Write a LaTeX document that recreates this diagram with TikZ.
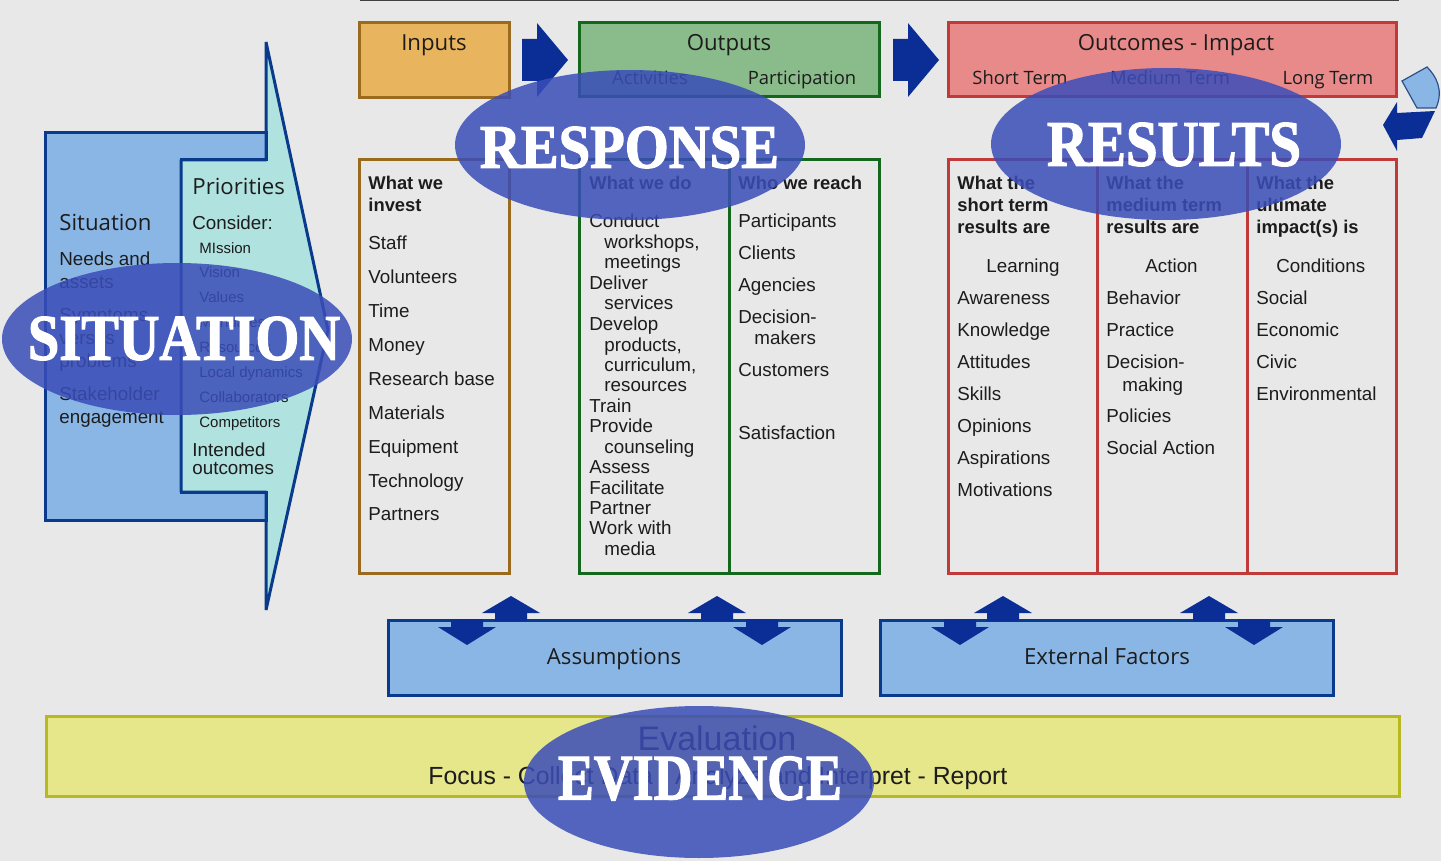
\documentclass[tikz,border=0pt]{standalone}
\usepackage{fontspec}
\usepackage{graphicx}
\setmainfont{Liberation Sans}
\newfontfamily\titlefont{Open Sans}
\newfontfamily\stencilfont[UprightFont={* Bold},FakeBold=2]{Liberation Serif}
\definecolor{pagebg}{HTML}{E8E8E8}
\definecolor{navy}{HTML}{0A2E96}
\definecolor{skyfill}{HTML}{8AB6E6}
\definecolor{skyline}{HTML}{0A3A8C}
\definecolor{tealfill}{HTML}{B0E2E0}
\definecolor{orangefill}{HTML}{E8B45E}
\definecolor{orangeline}{HTML}{9A6A1E}
\definecolor{greenfill}{HTML}{8ABB8A}
\definecolor{greenline}{HTML}{14681E}
\definecolor{redfill}{HTML}{E98A8A}
\definecolor{redline}{HTML}{C03A3A}
\definecolor{yellowfill}{HTML}{E6E68A}
\definecolor{yellowline}{HTML}{B8B820}
\definecolor{blobfill}{HTML}{3A4DB8}
\definecolor{inktext}{HTML}{1C1C1C}
\tikzset{
  x=0.5pt,y=-0.5pt,
  frame/.style={line width=1.5pt,line join=miter},
  body/.style={anchor=base west,inner sep=0pt,yshift=-0.4pt,text=inktext,font=\fontsize{9.4}{11}\selectfont},
  bodyb/.style={body,font=\fontsize{9.2}{11}\selectfont\bfseries},
  small/.style={body,font=\fontsize{7.5}{9}\selectfont},
  sit/.style={body,font=\fontsize{9.4}{12}\selectfont},
  heading/.style={anchor=base,inner sep=0pt,yshift=-0.4pt,text=inktext,font=\titlefont\fontsize{11.1}{13}\selectfont},
  subheading/.style={anchor=base,inner sep=0pt,yshift=-0.4pt,text=inktext,font=\titlefont\fontsize{9.2}{12}\selectfont},
  blobword/.style={inner sep=0pt,anchor=center,text=white,font=\stencilfont},
  solidarrow/.style={fill=navy,draw=none},
}
\begin{document}
\begin{tikzpicture}
\useasboundingbox (0,0) rectangle (1441,861);
\fill[pagebg] (0,0) rectangle (1441,861);
\draw[line width=1pt,black!75] (360,0) -- (1399,0);

% situation / priorities shape
\fill[tealfill] (266,45) -- (328,330) -- (266,607) -- cycle;
\filldraw[skyfill,draw=skyline,frame] (45,133) -- (266,133) -- (266,160) -- (181,160) -- (181,492) -- (266,492) -- (266,520) -- (45,520) -- cycle;
\fill[tealfill] (181,160) rectangle (266,492);
\draw[skyline,frame,line join=bevel] (181,492) -- (181,160) -- (266,160) -- (266,42) -- (328,330) -- (266,610) -- (266,492) -- cycle;
\draw[skyline,frame] (45,133) -- (266,133);
\draw[skyline,frame] (45,520) -- (266,520);

% header boxes
\filldraw[fill=orangefill,draw=orangeline,frame] (359,23) rectangle (509,98);
\filldraw[fill=greenfill,draw=greenline,frame] (579,23) rectangle (879,97);
\filldraw[fill=redfill,draw=redline,frame] (948,23) rectangle (1396,97);

% block arrows between headers
\fill[solidarrow] (522,39) -- (537,39) -- (537,23) -- (568,60) -- (537,97) -- (537,81) -- (522,81) -- cycle;
\fill[solidarrow] (893,39) -- (908,39) -- (908,23) -- (939,60) -- (908,97) -- (908,81) -- (893,81) -- cycle;

% feedback loop mark
\filldraw[fill=skyfill,draw=skyline!70!gray,line width=0.6pt] (1402,81) -- (1427,67) .. controls (1436,76) and (1444,90) .. (1436,108) -- (1417,108) -- cycle;
\fill[solidarrow] (1383,125) -- (1397,102) -- (1397,113) -- (1435,111) -- (1422,138) -- (1397,140) -- (1397,151) -- cycle;

% lower columns
\draw[orangeline,frame] (359,160) rectangle (509,573);
\draw[greenline,frame] (579,160) rectangle (879,573);
\draw[greenline,frame] (729,160) -- (729,573);
\draw[redline,frame] (948,160) rectangle (1396,573);
\draw[redline,frame] (1097,160) -- (1097,573);
\draw[redline,frame] (1247,160) -- (1247,573);

% assumptions / external factors
\filldraw[fill=skyfill,draw=skyline,frame] (388,620) rectangle (841,695);
\filldraw[fill=skyfill,draw=skyline,frame] (880,620) rectangle (1333,695);
\foreach \cx in {511,717,1003,1209}{
  \fill[solidarrow] (\cx,596) -- ({\cx+29},613) -- ({\cx+16},613) -- ({\cx+16},621) -- ({\cx-16},621) -- ({\cx-16},613) -- ({\cx-29},613) -- cycle;
}
\foreach \cx in {467,762,960,1254}{
  \fill[solidarrow] (\cx,645) -- ({\cx+29},627) -- ({\cx+16},627) -- ({\cx+16},619) -- ({\cx-16},619) -- ({\cx-16},627) -- ({\cx-29},627) -- cycle;
}

% evaluation bar
\filldraw[fill=yellowfill,draw=yellowline,frame] (46,716) rectangle (1399,796);
\node[anchor=base,inner sep=0pt,text=inktext,font=\fontsize{17}{20}\selectfont] (evaltitle) at (717,750) {Evaluation};
\node[anchor=base west,inner sep=0pt,text=inktext,font=\fontsize{12.4}{14}\selectfont] (evalsteps) at (428,784) {Focus - Collect Data - Analyze and Interpret - Report};

% headings
\node[heading] (hinputs) at (434,50) {Inputs};
\node[heading] (houtputs) at (729,50) {Outputs};
\node[heading] (houtcomes) at (1176,50) {Outcomes - Impact};
\node[subheading] (hact) at (650,84) {Activities};
\node[subheading] (hpart) at (802,84) {Participation};
\node[subheading] (hshort) at (1020,84) {Short Term};
\node[subheading] (hmed) at (1170,84) {Medium Term};
\node[subheading] (hlong) at (1328,84) {Long Term};
\node[heading] (hassume) at (614,664) {Assumptions};
\node[heading] (hext) at (1107,664) {External Factors};

% situation text
\node[heading,anchor=base west] (sittitle) at (59,230) {Situation};
\foreach \y/\t [count=\i] in {265/Needs and,288/assets,321/Symptoms,344/versus,367/problems,400/Stakeholder,423/engagement}
  \node[sit] (sit\i) at (59,\y) {\t};
\node[heading,anchor=base west] (prititle) at (192,194) {Priorities};
\node[sit] (consider) at (192,229) {Consider:};
\foreach \y/\t [count=\i] in {253/MIssion,277/Vision,302/Values,327/Mandates,352/Resources,377/Local dynamics,402/Collaborators,427/Competitors}
  \node[small] (pri\i) at (199,\y) {\t};
\node[sit] (intended) at (192,456) {Intended};
\node[sit] (outcomes) at (192,474) {outcomes};

% inputs column
\foreach \y/\t [count=\i] in {189/What we,211/invest}
  \node[bodyb] (invh\i) at (368,\y) {\t};
\foreach \y/\t [count=\i] in {249/Staff,283/Volunteers,317/Time,351/Money,385/Research base,419/Materials,453/Equipment,487/Technology,520/Partners}
  \node[body] (inv\i) at (368,\y) {\t};

% activities column
\node[bodyb] (acth) at (589,189) {What we do};
\foreach \x/\y/\t [count=\i] in {589/227/Conduct,604/248/{workshops,},604/268/meetings,589/289/Deliver,604/309/services,589/330/Develop,604/351/{products,},604/371/{curriculum,},604/391/resources,589/412/Train,589/432/Provide,604/453/counseling,589/473/Assess,589/494/Facilitate,589/514/Partner,589/534/Work with,604/555/media}
  \node[body] (act\i) at (\x,\y) {\t};

% participation column
\node[bodyb] (parth) at (738,189) {Who we reach};
\foreach \x/\y/\t [count=\i] in {738/227/Participants,738/259/Clients,738/291/Agencies,738/323/Decision-,754/344/makers,738/376/Customers,738/439/Satisfaction}
  \node[body] (part\i) at (\x,\y) {\t};

% short term column
\foreach \y/\t [count=\i] in {189/What the,211/short term,233/results are}
  \node[bodyb] (shh\i) at (957,\y) {\t};
\foreach \x/\y/\t [count=\i] in {986/272/Learning,957/304/Awareness,957/336/Knowledge,957/368/Attitudes,957/400/Skills,957/432/Opinions,957/464/Aspirations,957/496/Motivations}
  \node[body] (sh\i) at (\x,\y) {\t};

% medium term column
\foreach \y/\t [count=\i] in {189/What the,211/medium term,233/results are}
  \node[bodyb] (meh\i) at (1106,\y) {\t};
\foreach \x/\y/\t [count=\i] in {1145/272/Action,1106/304/Behavior,1106/336/Practice,1106/368/Decision-,1122/391/making,1106/422/Policies,1106/454/Social Action}
  \node[body] (me\i) at (\x,\y) {\t};

% long term column
\foreach \y/\t [count=\i] in {189/What the,211/ultimate,233/impact(s) is}
  \node[bodyb] (loh\i) at (1256,\y) {\t};
\foreach \x/\y/\t [count=\i] in {1276/272/Conditions,1256/304/Social,1256/336/Economic,1256/368/Civic,1256/400/Environmental}
  \node[body] (lo\i) at (\x,\y) {\t};

% overlay ellipses
\fill[blobfill,fill opacity=0.85] (177,339) ellipse [x radius=175,y radius=76];
\fill[blobfill,fill opacity=0.85] (630,145) ellipse [x radius=175,y radius=75];
\fill[blobfill,fill opacity=0.85] (1166,144) ellipse [x radius=175,y radius=76];
\fill[blobfill,fill opacity=0.85] (699,782) ellipse [x radius=175,y radius=76];
\node[blobword] (wsituation) at (184,338.5) {\resizebox{156pt}{21.5pt}{SITUATION}};
\node[blobword] (wresponse) at (629.5,147.5) {\resizebox{149.5pt}{20.5pt}{RESPONSE}};
\node[blobword] (wresults) at (1174,144.5) {\resizebox{127pt}{21.5pt}{RESULTS}};
\node[blobword] (wevidence) at (700,778.5) {\resizebox{142pt}{21.5pt}{EVIDENCE}};
\end{tikzpicture}
\end{document}
